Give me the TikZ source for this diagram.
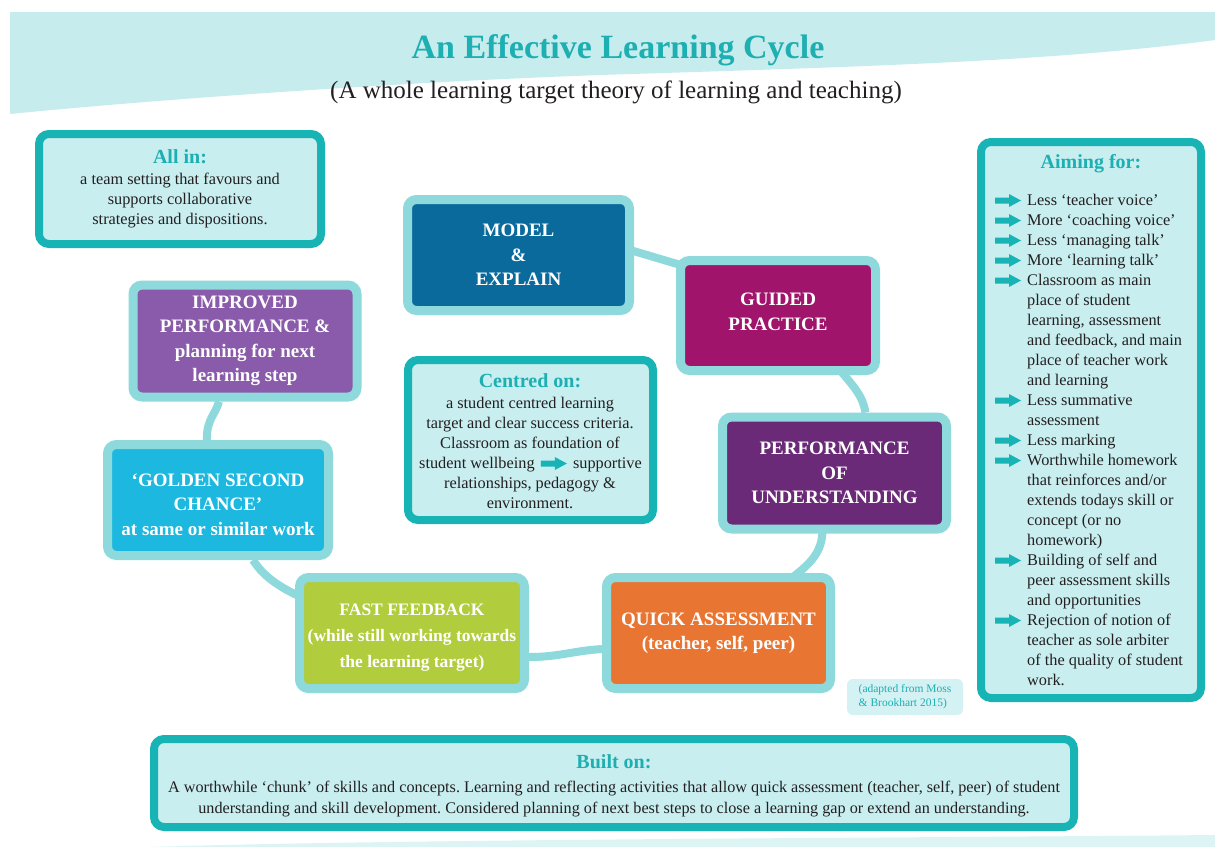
\documentclass[tikz,border=0pt]{standalone}
\usepackage{fontspec}
\setmainfont{Liberation Serif}
\usetikzlibrary{calc,backgrounds}
\definecolor{tealb}{HTML}{17B3B5}
\definecolor{tealt}{HTML}{1DAFB1}
\definecolor{lightfill}{HTML}{C8EEF0}
\definecolor{bandc}{HTML}{C7ECEE}
\definecolor{haloc}{HTML}{8ED9DC}
\definecolor{adfill}{HTML}{D4F1F3}
\definecolor{txtc}{HTML}{231F20}
\definecolor{cmodel}{HTML}{0B6A9C}
\definecolor{cguided}{HTML}{A0146B}
\definecolor{cperf}{HTML}{6B2A77}
\definecolor{cquick}{HTML}{E87632}
\definecolor{cfast}{HTML}{B1CD3D}
\definecolor{cgolden}{HTML}{1DB8E0}
\definecolor{cimproved}{HTML}{8A5BAA}
\frenchspacing
\begin{document}
\begin{tikzpicture}[x=1pt,y=-1pt,
  txtbox/.style={draw=tealb, line width=8pt, fill=lightfill, rounded corners=10pt, inner sep=0pt},
  cyc/.style={draw=haloc, line width=9pt, rounded corners=9pt, inner sep=0pt, text=white, align=center,
    font=\bfseries\fontsize{19}{24.5}\selectfont},
  link/.style={draw=haloc, line width=8pt},
  boxtitle/.style={text=tealt, font=\bfseries\fontsize{20}{24}\selectfont, inner sep=0pt},
  body/.style={text=txtc, align=center, inner sep=0pt, font=\fontsize{16.3}{20}\selectfont},
  listline/.style={text=txtc, anchor=base west, inner sep=0pt, font=\fontsize{16.3}{20}\selectfont},
  arrowc/.style={fill=tealb}
]
\useasboundingbox (0,0) rectangle (1215,847);

% titles
\node[text=tealt, font=\bfseries\fontsize{34}{40}\selectfont, inner sep=0pt] (title) at (618,50) {An Effective Learning Cycle};
\node[text=txtc, font=\fontsize{25}{30}\selectfont, inner sep=0pt] (subtitle) at (616,92) {(A whole learning target theory of learning and teaching)};

% text boxes
\node[txtbox, minimum width=282, minimum height=110] (allin) at (180,189) {};
\node[boxtitle] (allint) at (180,157) {All in:};
\node[body] (allinb) at (180,201) {a team setting that favours and\\supports collaborative\\strategies and dispositions.};

\node[txtbox, minimum width=220, minimum height=556] (aim) at (1091,420) {};
\node[boxtitle] (aimt) at (1091,164) {Aiming for:};
\foreach \t [count=\i] in {Less ‘teacher voice’, More ‘coaching voice’, Less ‘managing talk’, More ‘learning talk’,
  Classroom as main, place of student, {learning, assessment}, {and feedback, and main}, place of teacher work,
  and learning, Less summative, assessment, Less marking, Worthwhile homework, that reinforces and/or,
  extends todays skill or, concept (or no, homework), Building of self and, peer assessment skills,
  and opportunities, Rejection of notion of, teacher as sole arbiter, of the quality of student, work.}
  {\node[listline] (aim\i) at (1027,185+20*\i) {\t};}
\foreach \i in {1,2,3,4,5,11,13,14,19,22}
  {\fill[arrowc] ($(aim\i.base west)+(-32,-4.5)$) ++(0,-3) -- ++(14,0) -- ++(0,-3.5) -- ++(12,6.5)
     -- ++(-12,6.5) -- ++(0,-3.5) -- ++(-14,0) -- cycle;}

\node[txtbox, minimum width=245, minimum height=160] (cent) at (530.5,440) {};
\node[boxtitle] (centt) at (530,381) {Centred on:};
\node[body] (centa) at (530,423) {a student centred learning\\target and clear success criteria.\\Classroom as foundation of};
\node[listline] (cw1) at (419,468) {student wellbeing};
\fill[arrowc] ($(cw1.base east)+(6,-4.5)$) ++(0,-3) -- ++(14,0) -- ++(0,-3.5) -- ++(12,6.5)
     -- ++(-12,6.5) -- ++(0,-3.5) -- ++(-14,0) -- cycle;
\node[listline] (cw2) at ($(cw1.base east)+(38,0)$) {supportive};
\node[body] (centb) at (530,493) {relationships, pedagogy \&\\environment.};

\node[txtbox, minimum width=920, minimum height=88] (built) at (614,783) {};
\node[boxtitle] (builtt) at (614,762) {Built on:};
\node[body, font=\fontsize{16.2}{21}\selectfont] (builtb) at (614,799) {A worthwhile ‘chunk’ of skills and concepts. Learning and reflecting activities that allow quick assessment (teacher, self, peer) of student\\understanding and skill development. Considered planning of next best steps to close a learning gap or extend an understanding.};

\node[fill=adfill, rounded corners=6pt, minimum width=116, minimum height=36, inner sep=0pt,
  text=tealt, align=left, font=\fontsize{11.5}{14}\selectfont] (adapt) at (905,697) {(adapted from Moss\\\& Brookhart 2015)};

% cycle boxes
\node[cyc, fill=cmodel, minimum width=222, minimum height=111] (model) at (518.5,255) {MODEL\\\&\\EXPLAIN};
\node[cyc, fill=cguided, minimum width=195, minimum height=110] (guided) at (778,315.5) {GUIDED\\PRACTICE\rule[-8pt]{0pt}{8pt}};
\node[cyc, fill=cperf, minimum width=224, minimum height=112] (perf) at (834.5,473) {PERFORMANCE\\OF\\UNDERSTANDING};
\node[cyc, fill=cquick, minimum width=224, minimum height=111] (quick) at (718.5,633) {QUICK ASSESSMENT\\(teacher, self, peer)};
\node[cyc, fill=cfast, minimum width=225, minimum height=111, font=\bfseries\fontsize{17.5}{26}\selectfont] (fast) at (412,633) {\rule{0pt}{20pt}FAST FEEDBACK\\(while still working towards\\the learning target)};
\node[cyc, fill=cgolden, minimum width=221, minimum height=111] (golden) at (218,500) {\rule{0pt}{22pt}‘GOLDEN SECOND\\CHANCE’\\at same or similar work};
\node[cyc, fill=cimproved, minimum width=224, minimum height=112] (improved) at (245,341) {IMPROVED\\PERFORMANCE \&\\planning for next\\learning step};

\begin{scope}[on background layer]
  \fill[white] (0,0) rectangle (1215,847);
  \fill[bandc] (10,12) -- (1215,12) -- (1215,40) .. controls (1050,62) and (850,67) .. (600,75)
     .. controls (400,82) and (150,100) .. (10,114) -- cycle;
  \fill[bandc!60] (150,847) .. controls (400,839) and (900,838) .. (1215,835) -- (1215,847) -- cycle;
  \draw[link] ($(model.east)+(-4,-5)$) -- ($(guided.north west)+(8,10)$);
  \draw[link] ($(guided.south)+(62,-5)$) .. controls +(12,15) and +(-3,-18) .. ($(perf.north)+(31,0)$);
  \draw[link] ($(perf.south)+(-12,-4)$) .. controls +(0,22) and +(18,-14) .. ($(quick.north east)+(-42,4)$);
  \draw[link] ($(quick.west)+(0,16)$) .. controls +(-30,2) and +(30,0) .. ($(fast.east)+(0,24)$);
  \draw[link] ($(fast.north west)+(6,24)$) .. controls +(-22,-10) and +(10,16) .. ($(golden.south)+(35,0)$);
  \draw[link] ($(golden.north)+(-11,0)$) .. controls +(-1,-20) and +(-3,12) .. ($(improved.south)+(-26,0)$);
\end{scope}
\end{tikzpicture}
\end{document}
